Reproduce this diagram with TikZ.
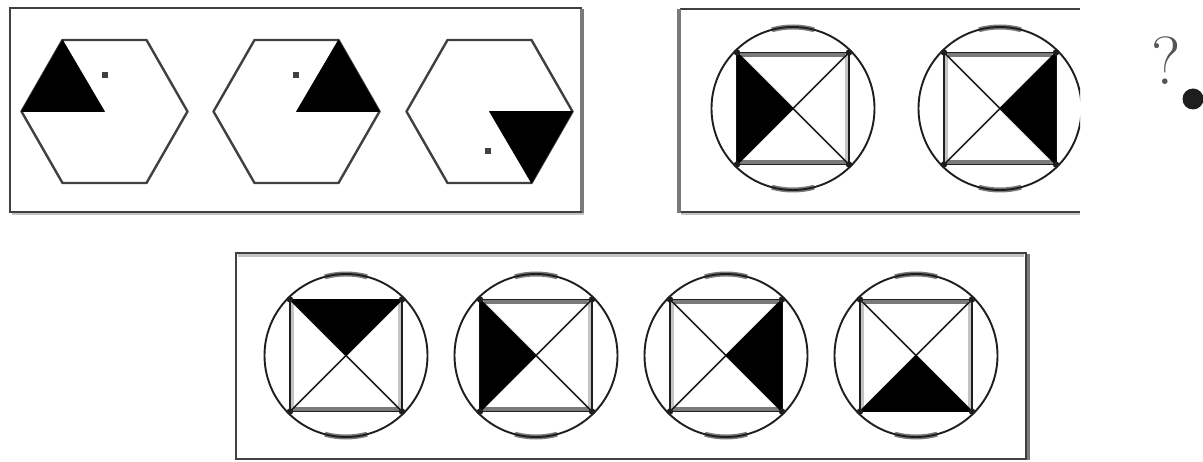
\documentclass[tikz,border=0pt]{standalone}
\usetikzlibrary{calc}
\definecolor{ink}{HTML}{1E1E1E}
\definecolor{edgegray}{HTML}{404040}
\definecolor{midgray}{HTML}{7A7A7A}
\definecolor{lightgray}{HTML}{C4C4C4}
\definecolor{qgray}{HTML}{555555}
\tikzset{
  hexline/.style={draw=edgegray,line width=2.4pt,line join=round},
  blackfill/.style={fill=black,draw=black,line width=0.6pt,line join=round},
  dotsq/.style={fill=edgegray},
  ringline/.style={draw=ink,line width=1.9pt},
  ringshade/.style={draw=midgray,line width=5pt},
  sqedge/.style={draw=ink,line width=1.6pt},
  sqshade/.style={draw=midgray,line width=4pt},
  sideshade/.style={draw=lightgray,line width=3pt},
  diagline/.style={draw=ink,line width=1.5pt},
  cornerdot/.style={fill=ink},
  boxdark/.style={draw=edgegray,line width=2.2pt},
  boxgray/.style={draw=midgray,line width=3.5pt},
  boxlight/.style={draw=lightgray,line width=3pt},
}
\newcommand\hexfig[2]{%
  \begin{scope}[shift={#2}]
    \coordinate (#1c) at (0,0);
    \coordinate (#1R) at (83,0);
    \coordinate (#1TR) at (42,-71.5);
    \coordinate (#1TL) at (-42,-71.5);
    \coordinate (#1L) at (-83,0);
    \coordinate (#1BL) at (-42,71.5);
    \coordinate (#1BR) at (42,71.5);
    \draw[hexline] (#1R) -- (#1TR) -- (#1TL) -- (#1L) -- (#1BL) -- (#1BR) -- cycle;
  \end{scope}}
\newcommand\ringfig[2]{%
  \begin{scope}[shift={#2}]
    \coordinate (#1c) at (0,0);
    \coordinate (#1TL) at (-56,-56);
    \coordinate (#1TR) at (56,-56);
    \coordinate (#1BL) at (-56,56);
    \coordinate (#1BR) at (56,56);
    \draw[ringshade] (75:81.5) arc[start angle=75,end angle=105,radius=81.5];
    \draw[ringshade] (255:81.5) arc[start angle=255,end angle=285,radius=81.5];
    \draw[ringline] (#1c) circle[radius=81.5];
    \draw[sqshade] (-54,-53.5) -- (54,-53.5);
    \draw[sqshade] (-54,53.5) -- (54,53.5);
    \draw[sideshade] (-53.5,-54) -- (-53.5,54);
    \draw[sideshade] (53.5,-54) -- (53.5,54);
    \draw[sqedge] (#1TL) -- (#1TR) -- (#1BR) -- (#1BL) -- cycle;
    \draw[diagline] (#1TL) -- (#1BR);
    \draw[diagline] (#1TR) -- (#1BL);
  \end{scope}}
\newcommand\ringdots[1]{%
  \fill[cornerdot] (#1TL) circle[radius=3.2];
  \fill[cornerdot] (#1TR) circle[radius=3.2];
  \fill[cornerdot] (#1BL) circle[radius=3.2];
  \fill[cornerdot] (#1BR) circle[radius=3.2];}
\begin{document}
\begin{tikzpicture}[x=1pt,y=-1pt]
\useasboundingbox (0,0) rectangle (1203,462);
\fill[white] (0,0) rectangle (1203,462);

% ---------- box 1: hexagons ----------
\draw[boxlight] (12,214) -- (584,214);
\draw[boxgray] (582,9) -- (582,213);
\draw[boxdark] (582,8) -- (10,8) -- (10,212) -- (582,212);

\hexfig{ha}{(104.5,111.5)}
\hexfig{hb}{(296.5,111.5)}
\hexfig{hc}{(489.5,111.5)}
\filldraw[blackfill] (hac) -- (haTL) -- (haL) -- cycle;
\filldraw[blackfill] (hbc) -- (hbTR) -- (hbR) -- cycle;
\filldraw[blackfill] (hcc) -- (hcR) -- (hcBR) -- cycle;
\coordinate (hadot) at (104.5,75);
\coordinate (hbdot) at (295.5,75);
\coordinate (hcdot) at (488,151);
\fill[dotsq] ($(hadot)+(-3,-3)$) rectangle ($(hadot)+(3,3)$);
\fill[dotsq] ($(hbdot)+(-3,-3)$) rectangle ($(hbdot)+(3,3)$);
\fill[dotsq] ($(hcdot)+(-3,-3)$) rectangle ($(hcdot)+(3,3)$);

% ---------- box 2: two rings ----------
\draw[boxlight] (681,214) -- (1080,214);
\draw[boxdark] (1080,9) -- (680,9);
\draw[boxdark] (680,212) -- (1080,212);
\draw[boxgray] (679,9) -- (679,213);
\begin{scope}
\clip (600,0) rectangle (1080,230);
\ringfig{ra}{(793,108.5)}
\ringfig{rb}{(1000,108.5)}
\filldraw[blackfill] (rac) -- (raTL) -- (raBL) -- cycle;
\filldraw[blackfill] (rbc) -- (rbTR) -- (rbBR) -- cycle;
\ringdots{ra}
\ringdots{rb}
\end{scope}

% ---------- question mark ----------
\node[text=qgray,font=\fontsize{68}{68}\selectfont,inner sep=0pt] (qm) at (1166,61) {?};
\coordinate (qdot) at (1193,99);
\fill[ink] (qdot) circle[radius=10.5];

% ---------- box 3: four rings ----------
\draw[boxlight] (238,256) -- (1024,256);
\draw[boxgray] (1028,254) -- (1028,460);
\draw[boxdark] (236,253) rectangle (1026,459);
\ringfig{sa}{(346,355.5)}
\ringfig{sb}{(536,355.5)}
\ringfig{sc}{(726,355.5)}
\ringfig{sd}{(916,355.5)}
\filldraw[blackfill] (sac) -- (saTL) -- (saTR) -- cycle;
\filldraw[blackfill] (sbc) -- (sbTL) -- (sbBL) -- cycle;
\filldraw[blackfill] (scc) -- (scTR) -- (scBR) -- cycle;
\filldraw[blackfill] (sdc) -- (sdBL) -- (sdBR) -- cycle;
\ringdots{sa}
\ringdots{sb}
\ringdots{sc}
\ringdots{sd}
\end{tikzpicture}
\end{document}
